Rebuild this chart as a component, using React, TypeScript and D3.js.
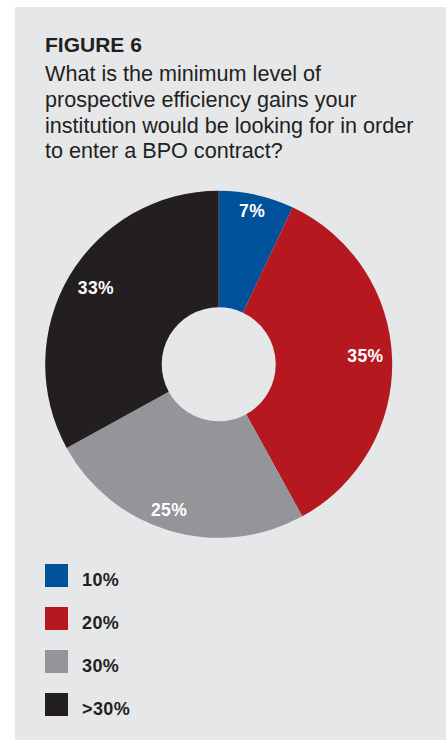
import React from "react";
import * as d3 from "d3";

// ---- data ----
const categories = ["10%", "20%", "30%", ">30%"];
const shares = [7, 35, 25, 33];
const sliceLabels = ["7%", "35%", "25%", "33%"];
const titleLines = ["FIGURE 6"];
const questionLines = [
  "What is the minimum level of",
  "prospective efficiency gains your",
  "institution would be looking for in order",
  "to enter a BPO contract?",
];

// ---- style / layout ----
const W = 446;
const H = 740;
const COLORS = ["#00529b", "#b5191f", "#939598", "#231f20"];
const BG = "#e6e7e9";
const INK = "#231f20";
const FONT = "'Liberation Sans', Arial, Helvetica, sans-serif";
const CX = 218.7;
const CY = 364.3;
const R_OUT = 173.5;
const R_IN = 57;
// label placement tweaks (degrees offset from slice middle, radius)
const LABEL_TWEAK = [
  { da: -0.3, r: 157 },
  { da: -1.6, r: 147 },
  { da: 2.6, r: 154 },
  { da: 1.5, r: 145 },
];

export default function App() {
  const pie = d3.pie<number>().sort(null).value((d) => d);
  const arcs = pie(shares);
  const arc = d3.arc<d3.PieArcDatum<number>>().innerRadius(R_IN).outerRadius(R_OUT);
  const color = d3.scaleOrdinal<string, string>().domain(categories).range(COLORS);
  const legendY = d3.scaleBand<string>().domain(categories).range([564, 736]).paddingInner(0);

  return (
    <div style={{ position: "absolute", left: 0, top: 0 }}>
      <svg width={W} height={H} style={{ display: "block" }}>
        <rect x={0} y={0} width={W} height={H} fill="#ffffff" />
        <rect x={15} y={7} width={W - 15} height={H - 7} fill={BG} />
        {titleLines.map((t, i) => (
          <text key={t} x={45} y={52 + i * 26} fontFamily={FONT} fontWeight={900} fontSize={21} fill={INK}>
            {t}
          </text>
        ))}
        {questionLines.map((t, i) => (
          <text key={t} x={45} y={81 + i * 25.8} fontFamily={FONT} fontSize={21.6} fill={INK}>
            {t}
          </text>
        ))}
        <g transform={`translate(${CX},${CY})`}>
          {arcs.map((a, i) => (
            <path key={categories[i]} d={arc(a) || ""} fill={color(categories[i])} />
          ))}
          {arcs.map((a, i) => {
            const tw = LABEL_TWEAK[i];
            const ang = (a.startAngle + a.endAngle) / 2 + (tw.da * Math.PI) / 180;
            const x = tw.r * Math.sin(ang);
            const y = -tw.r * Math.cos(ang);
            return (
              <text
                key={"l" + i}
                x={x}
                y={y}
                dy="0.36em"
                textAnchor="middle"
                fontFamily={FONT}
                fontWeight={700}
                fontSize={17.5}
                letterSpacing={0.4}
                fill="#ffffff"
              >
                {sliceLabels[i]}
              </text>
            );
          })}
        </g>
        {categories.map((c) => {
          const y0 = legendY(c) as number;
          return (
            <g key={"lg" + c}>
              <rect x={45} y={y0} width={23} height={23} fill={color(c)} />
              <text x={82} y={y0 + 22} fontFamily={FONT} fontWeight={700} fontSize={18} letterSpacing={0.4} fill={INK}>
                {c}
              </text>
            </g>
          );
        })}
      </svg>
    </div>
  );
}
